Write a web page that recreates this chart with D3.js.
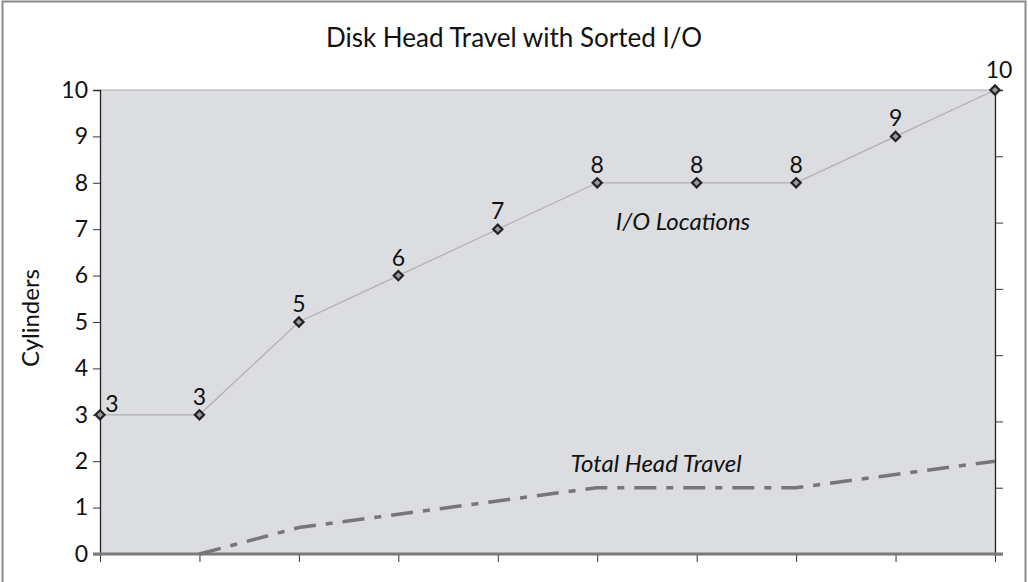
<!DOCTYPE html>
<html><head><meta charset="utf-8">
<script src="https://cdn.jsdelivr.net/npm/d3@7"></script>
<style>html,body{margin:0;padding:0;background:#fff;}svg{display:block;}</style>
</head><body>
<svg id="chart" width="1028" height="582"></svg>
<script>
const categories = [1, 2, 3, 4, 5, 6, 7, 8, 9, 10];
const ioLocations = [3, 3, 5, 6, 7, 8, 8, 8, 9, 10];
const totalHeadTravel = [null, 0, 2, 3, 4, 5, 5, 5, 6, 7];
const yTicks = [0, 1, 2, 3, 4, 5, 6, 7, 8, 9, 10];
const y2Ticks = [0, 5, 10, 15, 20, 25, 30, 35];
const titleText = "Disk Head Travel with Sorted I/O";
const yTitle = "Cylinders";
const seriesNames = ["I/O Locations", "Total Head Travel"];

const svg = d3.select("#chart");
const font = "Lato, 'Open Sans', sans-serif";
const L = 100, R = 995, T = 90, B = 554;

const x = d3.scalePoint().domain(categories).range([L, R]);
const y = d3.scaleLinear().domain([0, 10]).range([B, T]);
const y2 = d3.scaleLinear().domain([0, 35]).range([B, T]);

// outer frame
svg.append("rect").attr("x", 2.5).attr("y", 1.5).attr("width", 1023).attr("height", 620)
  .attr("fill", "#fff").attr("stroke", "#8a8a8a").attr("stroke-width", 2);

// plot area
svg.append("rect").attr("x", L).attr("y", T).attr("width", R - L).attr("height", B - T)
  .attr("fill", "#dcdde0");
svg.append("line").attr("x1", L).attr("x2", R).attr("y1", T).attr("y2", T)
  .attr("stroke", "#a9a9a9").attr("stroke-width", 1.2);

// left axis
const gy = svg.append("g").attr("transform", `translate(${L},0)`)
  .call(d3.axisLeft(y).tickValues(yTicks).tickSize(7).tickPadding(5).tickFormat(d3.format("d")));
gy.select(".domain").attr("stroke", "#222").attr("stroke-width", 1.3);
gy.selectAll(".tick line").attr("stroke", "#333");
gy.selectAll(".tick text").attr("font-family", font).attr("font-size", 23).attr("fill", "#111");

// right axis (no labels)
const gy2 = svg.append("g").attr("transform", `translate(${R},0)`)
  .call(d3.axisRight(y2).tickValues(y2Ticks).tickSize(8).tickFormat(""));
gy2.select(".domain").attr("stroke", "#222").attr("stroke-width", 1.3);
gy2.selectAll(".tick line").attr("stroke", "#333");

// bottom axis
const gx = svg.append("g").attr("transform", `translate(0,${B})`)
  .call(d3.axisBottom(x).tickSize(8).tickFormat(""));
gx.select(".domain").remove();
gx.selectAll(".tick line").attr("stroke", "#333");
svg.append("line").attr("x1", L - 7).attr("x2", R + 8).attr("y1", B).attr("y2", B)
  .attr("stroke", "#7a7a7a").attr("stroke-width", 3);

// Total head travel (secondary axis)
const lineTHT = d3.line().defined(d => d != null)
  .x((d, i) => x(categories[i])).y(d => y2(d));
svg.append("path").datum(totalHeadTravel).attr("d", lineTHT)
  .attr("fill", "none").attr("stroke", "#777").attr("stroke-width", 3.5)
  .attr("stroke-dasharray", "22,10,7,10");

// I/O locations
const lineIO = d3.line().x((d, i) => x(categories[i])).y(d => y(d));
svg.append("path").datum(ioLocations).attr("d", lineIO)
  .attr("fill", "none").attr("stroke", "#b0b0b0").attr("stroke-width", 1.2);

const sym = d3.symbol().type(d3.symbolSquare).size(42);
svg.selectAll(".marker").data(ioLocations).join("path").attr("class", "marker")
  .attr("d", sym)
  .attr("transform", (d, i) => `translate(${x(categories[i])},${y(d)}) rotate(45)`)
  .attr("fill", "#9a9a9a").attr("stroke", "#222").attr("stroke-width", 2.2);

// data labels
const n = ioLocations.length;
svg.selectAll(".dlabel").data(ioLocations).join("text").attr("class", "dlabel")
  .attr("x", (d, i) => x(categories[i]) + (i === 0 ? 12 : i === n - 1 ? 4 : 0))
  .attr("y", (d, i) => y(d) + (i === 0 ? -3 : i === n - 1 ? -12 : -10))
  .attr("text-anchor", "middle")
  .attr("font-family", font).attr("font-size", 23).attr("fill", "#111")
  .text(d => d);

// series annotations
svg.append("text").attr("x", 683).attr("y", 230).attr("text-anchor", "middle")
  .attr("font-family", font).attr("font-size", 24).attr("font-style", "italic").attr("fill", "#111")
  .text(seriesNames[0]);
svg.append("text").attr("x", 656).attr("y", 472).attr("text-anchor", "middle")
  .attr("font-family", font).attr("font-size", 24).attr("font-style", "italic").attr("fill", "#111")
  .text(seriesNames[1]);

// title
svg.append("text").attr("x", 514).attr("y", 47).attr("text-anchor", "middle")
  .attr("font-family", font).attr("font-size", 26).attr("fill", "#111")
  .text(titleText);

// y title
svg.append("text").attr("transform", "translate(39,318) rotate(-90)").attr("text-anchor", "middle")
  .attr("font-family", font).attr("font-size", 24).attr("fill", "#111")
  .text(yTitle);
</script>
</body></html>
